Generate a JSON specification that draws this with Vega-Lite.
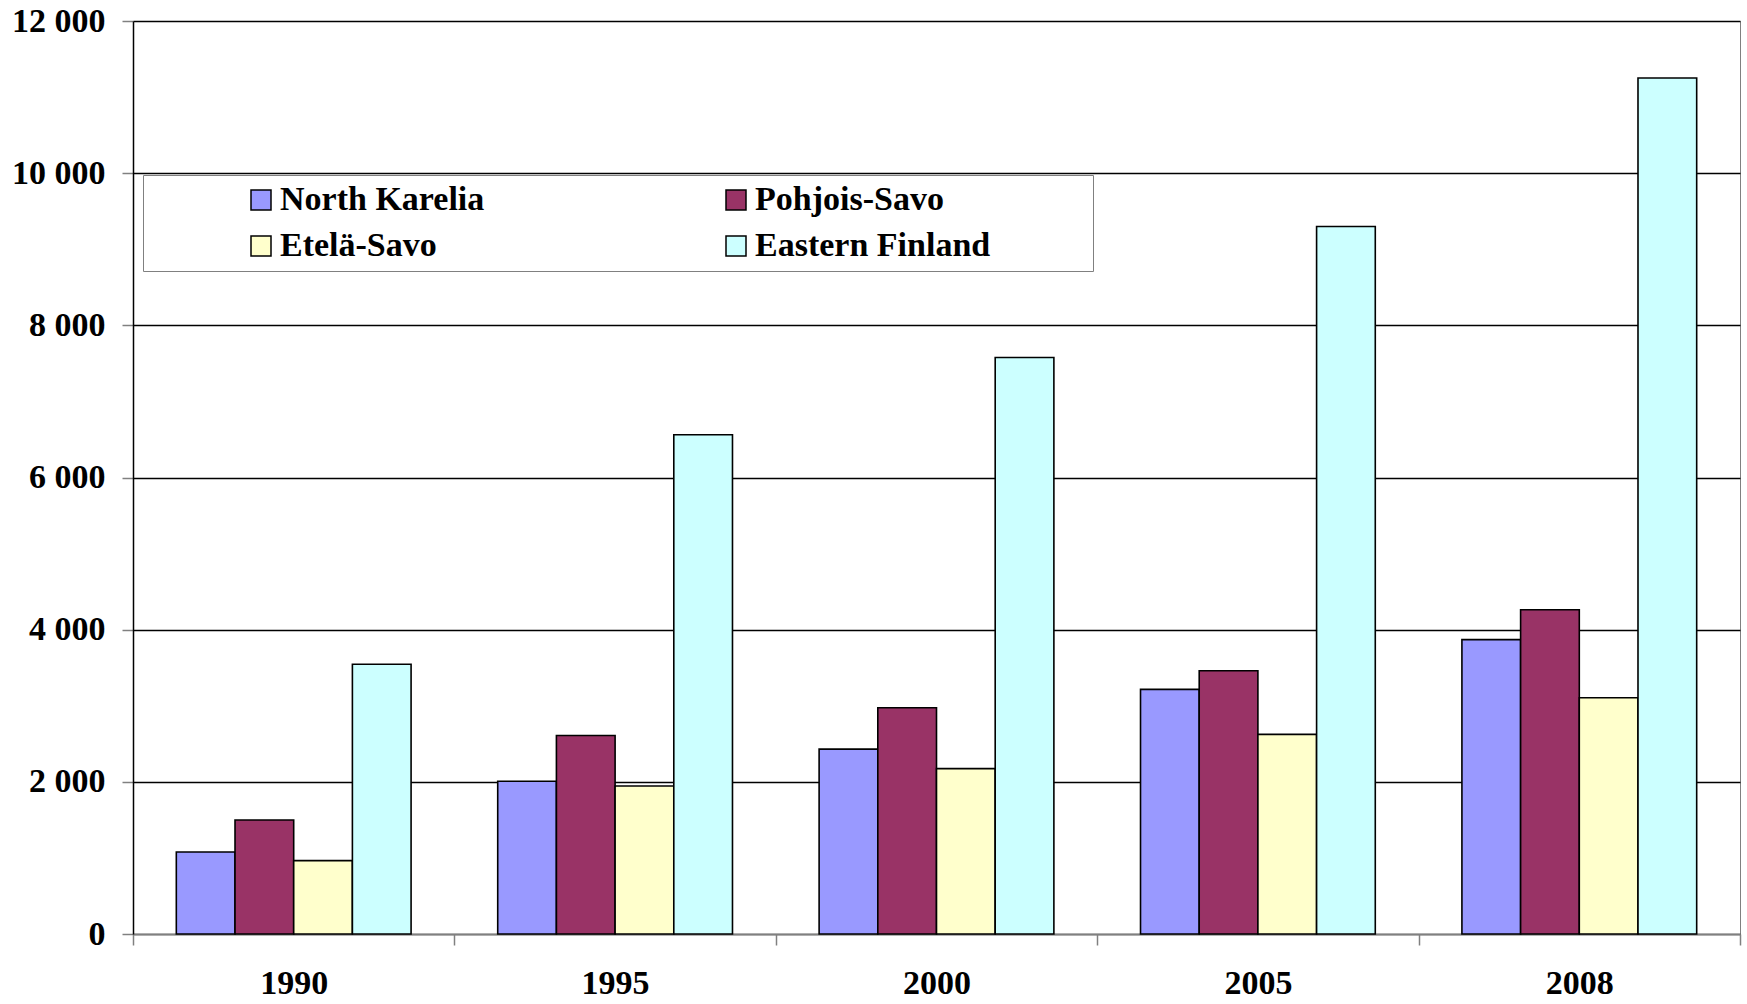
{
  "$schema": "https://vega.github.io/schema/vega-lite/v6.json",
  "width": 1607,
  "height": 913,
  "autosize": {"type": "none"},
  "padding": {"left": 133, "top": 21, "right": 7, "bottom": 70},
  "background": "white",
  "config": {
    "view": {"stroke": "#808080", "strokeWidth": 1},
    "font": "Liberation Serif"
  },
  "data": {
    "values": [
      {"year": "1990", "region": "North Karelia", "value": 1078},
      {"year": "1990", "region": "Pohjois-Savo", "value": 1499},
      {"year": "1990", "region": "Etelä-Savo", "value": 965},
      {"year": "1990", "region": "Eastern Finland", "value": 3545},
      {"year": "1995", "region": "North Karelia", "value": 2008},
      {"year": "1995", "region": "Pohjois-Savo", "value": 2608},
      {"year": "1995", "region": "Etelä-Savo", "value": 1945},
      {"year": "1995", "region": "Eastern Finland", "value": 6561},
      {"year": "2000", "region": "North Karelia", "value": 2430},
      {"year": "2000", "region": "Pohjois-Savo", "value": 2973},
      {"year": "2000", "region": "Etelä-Savo", "value": 2173},
      {"year": "2000", "region": "Eastern Finland", "value": 7578},
      {"year": "2005", "region": "North Karelia", "value": 3215},
      {"year": "2005", "region": "Pohjois-Savo", "value": 3461},
      {"year": "2005", "region": "Etelä-Savo", "value": 2624},
      {"year": "2005", "region": "Eastern Finland", "value": 9300},
      {"year": "2008", "region": "North Karelia", "value": 3869},
      {"year": "2008", "region": "Pohjois-Savo", "value": 4262},
      {"year": "2008", "region": "Etelä-Savo", "value": 3106},
      {"year": "2008", "region": "Eastern Finland", "value": 11250}
    ]
  },
  "mark": {"type": "bar", "stroke": "black", "strokeWidth": 1.6},
  "encoding": {
    "x": {
      "field": "year",
      "type": "nominal",
      "scale": {"paddingInner": 0, "paddingOuter": 0},
      "axis": {
        "title": null,
        "labelAngle": 0,
        "labelFont": "Liberation Serif",
        "labelFontWeight": "bold",
        "labelFontSize": 34,
        "labelColor": "black",
        "labelPadding": 21,
        "tickBand": "extent",
        "tickSize": 11,
        "tickColor": "#808080",
        "tickWidth": 1.5,
        "domainColor": "#808080",
        "domainWidth": 1.5,
        "grid": false
      }
    },
    "xOffset": {
      "field": "region",
      "type": "nominal",
      "sort": ["North Karelia", "Pohjois-Savo", "Etelä-Savo", "Eastern Finland"],
      "scale": {"paddingInner": 0, "paddingOuter": 0.738}
    },
    "y": {
      "field": "value",
      "type": "quantitative",
      "scale": {"domain": [0, 12000], "nice": false},
      "axis": {
        "title": null,
        "values": [0, 2000, 4000, 6000, 8000, 10000, 12000],
        "labelExpr": "replace(format(datum.value, ','), ',', ' ')",
        "labelFont": "Liberation Serif",
        "labelFontWeight": "bold",
        "labelFontSize": 34,
        "labelColor": "black",
        "labelPadding": 17,
        "tickSize": 11,
        "tickColor": "#808080",
        "tickWidth": 1.5,
        "domainColor": "black",
        "domainWidth": 1.5,
        "gridColor": "black",
        "gridWidth": 1.3
      }
    },
    "fill": {
      "field": "region",
      "type": "nominal",
      "sort": ["North Karelia", "Pohjois-Savo", "Etelä-Savo", "Eastern Finland"],
      "scale": {
        "domain": ["North Karelia", "Pohjois-Savo", "Etelä-Savo", "Eastern Finland"],
        "range": ["#9999FF", "#993366", "#FFFFCC", "#CCFFFF"]
      },
      "legend": {
        "orient": "none",
        "legendX": 10,
        "legendY": 154,
        "direction": "horizontal",
        "columns": 2,
        "title": " ",
        "titleOrient": "right",
        "titlePadding": 95,
        "titleFontSize": 10,
        "symbolOffset": 93,
        "symbolType": "square",
        "symbolSize": 400,
        "symbolStrokeColor": "black",
        "symbolStrokeWidth": 1.5,
        "labelFont": "Liberation Serif",
        "labelFontWeight": "bold",
        "labelFontSize": 34,
        "labelColor": "black",
        "labelLimit": 600,
        "labelOffset": 2,
        "rowPadding": 12,
        "columnPadding": 141,
        "padding": 8,
        "strokeColor": "#808080",
        "fillColor": "white"
      }
    }
  }
}
